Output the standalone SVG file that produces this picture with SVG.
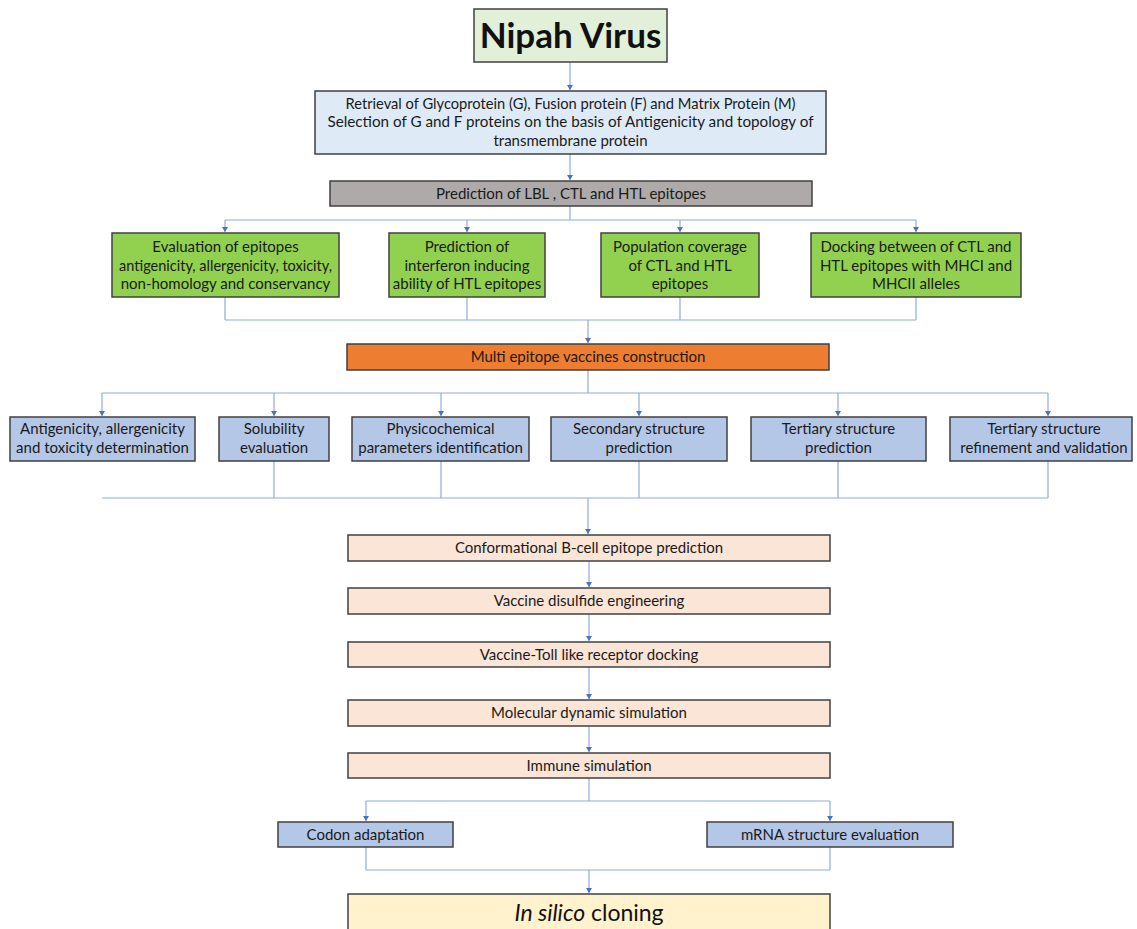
<svg xmlns="http://www.w3.org/2000/svg" width="1137" height="929" viewBox="0 0 1137 929">
<style>
  .box{stroke:#404040;stroke-width:1.5}
  .t{font-family:Lato,"Liberation Sans",sans-serif;font-size:15px;fill:#1a1a1a;text-anchor:middle}
  .c{fill:none;stroke:#8faadc;stroke-width:1.2}
  .g{fill:#92d050}.b{fill:#b4c7e7}.p{fill:#fbe5d6}
</style>
<defs>
  <marker id="ah" markerUnits="userSpaceOnUse" markerWidth="6" markerHeight="6" refX="5" refY="3" orient="auto">
    <path d="M0,0 L5,3 L0,6 z" fill="#4472c4"/>
  </marker>
</defs>
<rect width="1137" height="929" fill="#ffffff"/>
<g id="connectors">
  <path class="c" d="M570,62 V90" marker-end="url(#ah)"/>
  <path class="c" d="M570,154 V180" marker-end="url(#ah)"/>
  <path class="c" d="M570,206 V220 M225,220 H916"/>
  <path class="c" d="M225,220 V232" marker-end="url(#ah)"/>
  <path class="c" d="M467,220 V232" marker-end="url(#ah)"/>
  <path class="c" d="M680,220 V232" marker-end="url(#ah)"/>
  <path class="c" d="M916,220 V232" marker-end="url(#ah)"/>
  <path class="c" d="M225,297 V320 M467,297 V320 M680,297 V320 M916,297 V320 M225,320 H916"/>
  <path class="c" d="M588,320 V343" marker-end="url(#ah)"/>
  <path class="c" d="M588,370 V393 M102,393 H1048"/>
  <path class="c" d="M102,393 V416" marker-end="url(#ah)"/>
  <path class="c" d="M274,393 V416" marker-end="url(#ah)"/>
  <path class="c" d="M441,393 V416" marker-end="url(#ah)"/>
  <path class="c" d="M639,393 V416" marker-end="url(#ah)"/>
  <path class="c" d="M838,393 V416" marker-end="url(#ah)"/>
  <path class="c" d="M1048,393 V416" marker-end="url(#ah)"/>
  <path class="c" d="M274,461 V498 M441,461 V498 M639,461 V498 M838,461 V498 M1048,461 V498 M102,498 H1048"/>
  <path class="c" d="M588,498 V534" marker-end="url(#ah)"/>
  <path class="c" d="M589,561 V587" marker-end="url(#ah)"/>
  <path class="c" d="M589,614 V641" marker-end="url(#ah)"/>
  <path class="c" d="M589,667 V699" marker-end="url(#ah)"/>
  <path class="c" d="M589,726 V752" marker-end="url(#ah)"/>
  <path class="c" d="M589,778 V801 M366,801 H830"/>
  <path class="c" d="M366,801 V821" marker-end="url(#ah)"/>
  <path class="c" d="M830,801 V821" marker-end="url(#ah)"/>
  <path class="c" d="M366,847 V870 M830,847 V870 M366,870 H830"/>
  <path class="c" d="M589,870 V893" marker-end="url(#ah)"/>
</g>
<g id="nipah">
  <rect class="box" x="474" y="9" width="193" height="53" fill="#e2f0d9"/>
  <text x="570.5" y="48" style="font-family:Lato,'Liberation Sans',sans-serif;font-size:35px;font-weight:bold;fill:#111;text-anchor:middle">Nipah Virus</text>
</g>
<g id="retrieval">
  <rect class="box" x="315" y="91" width="511" height="63" fill="#deebf7"/>
  <text class="t" x="570.5" y="109" textLength="450" lengthAdjust="spacingAndGlyphs">Retrieval of Glycoprotein (G), Fusion protein (F) and Matrix Protein (M)</text>
  <text class="t" x="570.5" y="127" textLength="486" lengthAdjust="spacingAndGlyphs">Selection of G and F proteins on the basis of Antigenicity and topology of</text>
  <text class="t" x="570.5" y="146">transmembrane protein</text>
</g>
<g id="prediction">
  <rect class="box" x="330" y="181" width="482" height="25" fill="#aeaaaa"/>
  <text class="t" x="571" y="199">Prediction of LBL , CTL and HTL epitopes</text>
</g>
<g id="evaluation">
  <rect class="box g" x="112" y="233" width="227" height="64"/>
  <text class="t" x="225.5" y="252">Evaluation of epitopes</text>
  <text class="t" x="225.5" y="271" textLength="213" lengthAdjust="spacingAndGlyphs">antigenicity, allergenicity, toxicity,</text>
  <text class="t" x="225.5" y="289">non-homology and conservancy</text>
</g>
<g id="interferon">
  <rect class="box g" x="389" y="233" width="156" height="64"/>
  <text class="t" x="467" y="252">Prediction of</text>
  <text class="t" x="467" y="271">interferon inducing</text>
  <text class="t" x="467" y="289">ability of HTL epitopes</text>
</g>
<g id="population">
  <rect class="box g" x="601" y="233" width="158" height="64"/>
  <text class="t" x="680" y="252">Population coverage</text>
  <text class="t" x="680" y="271">of CTL and HTL</text>
  <text class="t" x="680" y="289">epitopes</text>
</g>
<g id="docking">
  <rect class="box g" x="811" y="233" width="210" height="64"/>
  <text class="t" x="916" y="252">Docking between of CTL and</text>
  <text class="t" x="916" y="271">HTL epitopes with MHCI and</text>
  <text class="t" x="916" y="289">MHCII alleles</text>
</g>
<g id="multi">
  <rect class="box" x="347" y="344" width="482" height="26" fill="#ed7d31"/>
  <text class="t" x="588" y="362">Multi epitope vaccines construction</text>
</g>
<g id="antigenicity">
  <rect class="box b" x="10" y="417" width="185" height="44"/>
  <text class="t" x="102.5" y="434">Antigenicity, allergenicity</text>
  <text class="t" x="102.5" y="453">and toxicity determination</text>
</g>
<g id="solubility">
  <rect class="box b" x="219" y="417" width="110" height="44"/>
  <text class="t" x="274" y="434">Solubility</text>
  <text class="t" x="274" y="453">evaluation</text>
</g>
<g id="physicochemical">
  <rect class="box b" x="352" y="417" width="177" height="44"/>
  <text class="t" x="440.5" y="434">Physicochemical</text>
  <text class="t" x="440.5" y="453">parameters identification</text>
</g>
<g id="secondary">
  <rect class="box b" x="551" y="417" width="176" height="44"/>
  <text class="t" x="639" y="434">Secondary structure</text>
  <text class="t" x="639" y="453">prediction</text>
</g>
<g id="tertiary">
  <rect class="box b" x="751" y="417" width="175" height="44"/>
  <text class="t" x="838.5" y="434">Tertiary structure</text>
  <text class="t" x="838.5" y="453">prediction</text>
</g>
<g id="refinement">
  <rect class="box b" x="950" y="417" width="182" height="44"/>
  <text class="t" x="1044" y="434">Tertiary structure</text>
  <text class="t" x="1044" y="453">refinement and validation</text>
</g>
<g id="conformational">
  <rect class="box p" x="348" y="535" width="482" height="26"/>
  <text class="t" x="589" y="553">Conformational B-cell epitope prediction</text>
</g>
<g id="disulfide">
  <rect class="box p" x="348" y="588" width="482" height="26"/>
  <text class="t" x="589" y="606">Vaccine disulfide engineering</text>
</g>
<g id="toll">
  <rect class="box p" x="348" y="642" width="482" height="25"/>
  <text class="t" x="589" y="660">Vaccine-Toll like receptor docking</text>
</g>
<g id="molecular">
  <rect class="box p" x="348" y="700" width="482" height="26"/>
  <text class="t" x="589" y="718">Molecular dynamic simulation</text>
</g>
<g id="immune">
  <rect class="box p" x="348" y="753" width="482" height="25"/>
  <text class="t" x="589" y="771">Immune simulation</text>
</g>
<g id="codon">
  <rect class="box b" x="278" y="822" width="175" height="25"/>
  <text class="t" x="365.5" y="840">Codon adaptation</text>
</g>
<g id="mrna">
  <rect class="box b" x="707" y="822" width="246" height="25"/>
  <text class="t" x="830" y="840">mRNA structure evaluation</text>
</g>
<g id="insilico">
  <rect class="box" x="348" y="894" width="482" height="40" fill="#fff2cc"/>
  <text x="589" y="921" style="font-family:Lato,'Liberation Sans',sans-serif;font-size:23px;fill:#111;text-anchor:middle"><tspan font-style="italic">In silico</tspan> cloning</text>
</g>
</svg>
